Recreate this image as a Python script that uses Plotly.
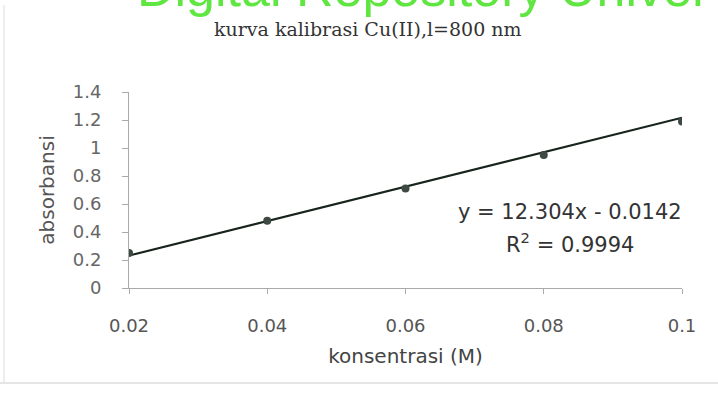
import plotly.graph_objects as go

konsentrasi = [0.02, 0.04, 0.06, 0.08, 0.1]
absorbansi = [0.25, 0.48, 0.71, 0.95, 1.19]
x_ticks = [0.02, 0.04, 0.06, 0.08, 0.1]
x_tick_labels = ["0.02", "0.04", "0.06", "0.08", "0.1"]
y_ticks = [0, 0.2, 0.4, 0.6, 0.8, 1.0, 1.2, 1.4]
y_tick_labels = ["0", "0.2", "0.4", "0.6", "0.8", "1", "1.2", "1.4"]
slope = 12.304
intercept = -0.0142

W, H = 718, 393
L, R, T, B = 129, 36, 92, 105
pw, ph = W - L - R, H - T - B

def px(X):
    return (X - L) / pw

def py(Y):
    return (H - B - Y) / ph

fit_y = [slope * x + intercept for x in konsentrasi]

SANS = "DejaVu Sans, Verdana, sans-serif"

fig = go.Figure()
fig.add_trace(go.Scatter(
    x=konsentrasi, y=fit_y, mode="lines",
    line=dict(color="#16241c", width=2.2), hoverinfo="skip", showlegend=False))
fig.add_trace(go.Scatter(
    x=konsentrasi, y=absorbansi, mode="markers",
    marker=dict(color="#3d4a44", size=8, symbol="circle"), showlegend=False))

fig.update_layout(
    width=W, height=H,
    margin=dict(l=L, r=R, t=T, b=B),
    paper_bgcolor="white", plot_bgcolor="white",
    font=dict(family=SANS, color="#555"),
    xaxis=dict(range=[0.02, 0.1], tickvals=x_ticks, ticktext=x_tick_labels,
               showgrid=False, zeroline=False, showline=True, linecolor="#aaa",
               linewidth=1, ticks="outside", ticklen=5, tickcolor="#aaa",
               ticklabelstandoff=16,
               tickfont=dict(family=SANS, size=18, color="#555"),
               title=dict(text="konsentrasi (M)", font=dict(family=SANS, size=20, color="#444"), standoff=14)),
    yaxis=dict(range=[0, 1.4], tickvals=y_ticks, ticktext=y_tick_labels,
               showgrid=False, zeroline=False, showline=True, linecolor="#aaa",
               linewidth=1, ticks="outside", ticklen=6, tickcolor="#aaa",
               ticklabelstandoff=17,
               tickfont=dict(family=SANS, size=18, color="#666"),
               title=dict(text="absorbansi", font=dict(family=SANS, size=20, color="#555"), standoff=12)),
    showlegend=False,
)

fig.add_annotation(xref="paper", yref="paper", x=px(368), y=py(29), xanchor="center", yanchor="middle",
                   showarrow=False, text="kurva kalibrasi Cu(II),l=800 nm",
                   font=dict(family="DejaVu Serif, Liberation Serif, serif", size=19, color="#333"))
fig.add_annotation(xref="paper", yref="paper", x=px(135), y=py(19), xanchor="left", yanchor="bottom",
                   showarrow=False, text="Digital Repository Univer",
                   font=dict(family="Liberation Sans, Arial, sans-serif", size=52, color="#5fe640"))
fig.add_annotation(xref="paper", yref="paper", x=px(570), y=py(212), xanchor="center", yanchor="middle",
                   showarrow=False, text="y = 12.304x - 0.0142",
                   font=dict(family=SANS, size=21, color="#333"))
fig.add_annotation(xref="paper", yref="paper", x=px(570), y=py(243), xanchor="center", yanchor="middle",
                   showarrow=False, text="R<sup>2</sup> = 0.9994",
                   font=dict(family=SANS, size=21, color="#333"))

fig.add_shape(type="line", xref="paper", yref="paper", x0=px(0), x1=px(W), y0=py(383), y1=py(383),
              line=dict(color="#ccc", width=1))
fig.add_shape(type="line", xref="paper", yref="paper", x0=px(4), x1=px(4), y0=py(5), y1=py(383),
              line=dict(color="#ddd", width=1))

fig.write_html("out.html", config={"displayModeBar": False},
               post_script="document.body.style.margin='0';document.body.style.overflow='hidden';")
